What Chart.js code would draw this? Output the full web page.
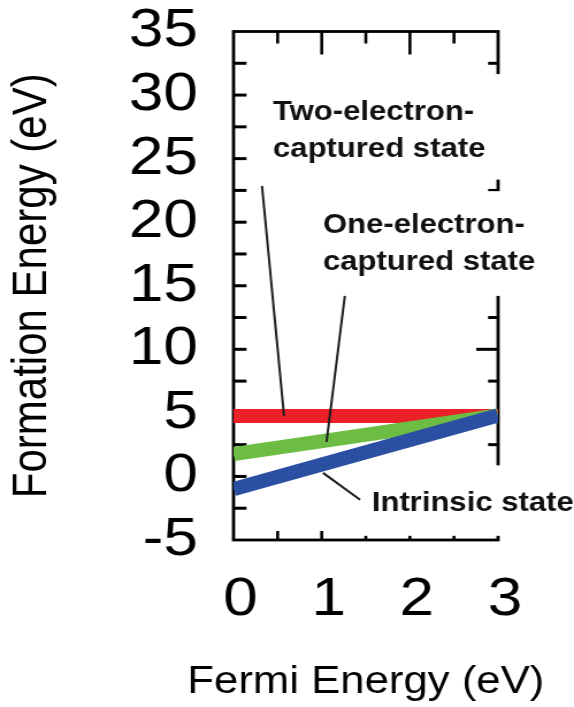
<!DOCTYPE html>
<html>
<head>
<meta charset="utf-8">
<script src="https://cdn.jsdelivr.net/npm/chart.js@4/dist/chart.umd.min.js"></script>
<style>
  html, body { margin: 0; padding: 0; background: #fff; overflow: hidden; }
  /* the figure is drawn in a narrower box and widened horizontally */
  #figure { width: 499px; height: 707px; transform: scaleX(1.1503); transform-origin: 0 0; }
</style>
</head>
<body>
<div id="figure"><canvas id="chart"></canvas></div>
<script>
// Fermi energy (eV) at the two ends of each line
const fermiEnergy = [0, 3];
// Formation energy (eV) of each charge state
const twoElectronCaptured = [4.75, 4.75];
const oneElectronCaptured = [1.75, 4.8];
const intrinsicState = [-1.0, 4.8];

// Axis tick labels and titles
const xTickValues = [0, 1, 2, 3];
const yTickValues = [-5, 0, 5, 10, 15, 20, 25, 30, 35];
const xTitle = 'Fermi Energy (eV)';
const yTitle = 'Formation Energy (eV)';

const FONT = "'Liberation Sans', Arial, Helvetica, sans-serif";

// Callout labels, placed in axis units
const callouts = [
  { lines: ['Two-electron-', 'captured state'], x: 0.448, y: [28.03, 25.12],
    box: { x0: 0.346, y0: 31.65, y1: 23.35 }, leader: [[0.323, 22.85], [0.573, 4.76]] },
  { lines: ['One-electron-', 'captured state'], x: 1.015, y: [19.15, 16.24],
    box: { x0: 0.924, y0: 22.44, y1: 14.2 }, leader: [[1.262, 14.2], [1.055, 2.72]] },
  { lines: ['Intrinsic state'], x: 1.567, y: [-2.7],
    box: { x0: 1.457, y0: 0.87, y1: -4.67 }, leader: [[1.015, 0.28], [1.435, -1.84]] }
];

function series(values) {
  return fermiEnergy.map((e, i) => ({ x: e, y: values[i] }));
}

// Frame with inward-pointing ticks, callouts with leader lines, x-axis title
const decor = {
  id: 'decor',
  beforeDatasetsDraw(chart) {
    const { ctx, chartArea: a, scales: { x, y } } = chart;
    ctx.save();
    ctx.strokeStyle = '#000';
    ctx.lineCap = 'butt';
    ctx.lineWidth = 2.8;
    ctx.strokeRect(a.left, a.top, a.right - a.left, a.bottom - a.top);

    ctx.lineWidth = 3;
    for (let v = y.min + 2.5; v < y.max; v += 2.5) {
      const py = y.getPixelForValue(v);
      ctx.beginPath(); ctx.moveTo(a.left, py); ctx.lineTo(a.left + 11.3, py); ctx.stroke();
      const rl = (v % 10 === 0) ? 19 : 8.7;
      ctx.beginPath(); ctx.moveTo(a.right, py); ctx.lineTo(a.right - rl, py); ctx.stroke();
    }
    ctx.lineWidth = 2.6;
    for (let v = x.min + 0.5; v < x.max; v += 0.5) {
      const px = x.getPixelForValue(v);
      const tl = Number.isInteger(v) ? 23 : 12;
      ctx.beginPath(); ctx.moveTo(px, a.top); ctx.lineTo(px, a.top + tl); ctx.stroke();
      ctx.beginPath(); ctx.moveTo(px, a.bottom); ctx.lineTo(px, a.bottom - 9); ctx.stroke();
    }
    ctx.restore();
  },
  afterDatasetsDraw(chart) {
    const { ctx, chartArea: a, scales: { x, y } } = chart;
    ctx.save();
    callouts.forEach(c => {
      const bx = x.getPixelForValue(c.box.x0);
      const by0 = y.getPixelForValue(c.box.y0);
      const by1 = y.getPixelForValue(c.box.y1);
      ctx.fillStyle = '#fff';
      ctx.fillRect(bx, by0, chart.width - bx, by1 - by0);

      ctx.fillStyle = '#111';
      ctx.font = 'bold 27px ' + FONT;
      ctx.textAlign = 'left';
      ctx.textBaseline = 'alphabetic';
      c.lines.forEach((t, i) => {
        ctx.fillText(t, x.getPixelForValue(c.x), y.getPixelForValue(c.y[i]));
      });

      ctx.strokeStyle = '#1e1e1e';
      ctx.lineWidth = 2;
      ctx.beginPath();
      ctx.moveTo(x.getPixelForValue(c.leader[0][0]), y.getPixelForValue(c.leader[0][1]));
      ctx.lineTo(x.getPixelForValue(c.leader[1][0]), y.getPixelForValue(c.leader[1][1]));
      ctx.stroke();
    });

    // x-axis title, centred under the plot
    ctx.fillStyle = '#000';
    ctx.font = '38px ' + FONT;
    ctx.textAlign = 'center';
    ctx.textBaseline = 'alphabetic';
    ctx.fillText(xTitle, (a.left + a.right) / 2, 693);
    ctx.restore();
  }
};

new Chart(document.getElementById('chart'), {
  type: 'line',
  data: {
    datasets: [
      { label: 'Intrinsic state', data: series(intrinsicState),
        borderColor: '#2b4fa3', borderWidth: 14, order: 0 },
      { label: 'One-electron-captured state', data: series(oneElectronCaptured),
        borderColor: '#6dbd45', borderWidth: 14, order: 1 },
      { label: 'Two-electron-captured state', data: series(twoElectronCaptured),
        borderColor: '#ec2027', borderWidth: 14, order: 2 }
    ]
  },
  options: {
    responsive: true,
    maintainAspectRatio: false,
    animation: false,
    devicePixelRatio: 1,
    elements: { point: { radius: 0 }, line: { tension: 0, borderCapStyle: 'butt' } },
    layout: { padding: { left: 0, right: 66, top: 31.5, bottom: 0 } },
    plugins: { legend: { display: false }, tooltip: { enabled: false } },
    scales: {
      x: {
        type: 'linear', min: 0, max: 3,
        grid: { display: false, drawTicks: false },
        border: { display: false },
        ticks: { color: '#000', font: { family: FONT, size: 54, lineHeight: 1 },
                 padding: 33, labelOffset: 6, maxRotation: 0, autoSkip: false },
        afterBuildTicks: s => { s.ticks = xTickValues.map(v => ({ value: v })); },
        afterFit: s => { s.height = 167; s.paddingLeft = 0; s.paddingRight = 0; },
        title: { display: false }
      },
      y: {
        type: 'linear', min: -5, max: 35,
        grid: { display: false, drawTicks: false },
        border: { display: false },
        ticks: { color: '#000', font: { family: FONT, size: 54, lineHeight: 1 },
                 padding: 31, autoSkip: false },
        afterBuildTicks: s => { s.ticks = yTickValues.map(v => ({ value: v })); },
        afterFit: s => { s.width = 203; s.paddingTop = 0; s.paddingBottom = 0; },
        title: { display: true, text: yTitle, color: '#000',
                 font: { family: FONT, size: 42 }, padding: { top: 3.2, bottom: 0 } }
      }
    }
  },
  plugins: [decor]
});
</script>
</body>
</html>
